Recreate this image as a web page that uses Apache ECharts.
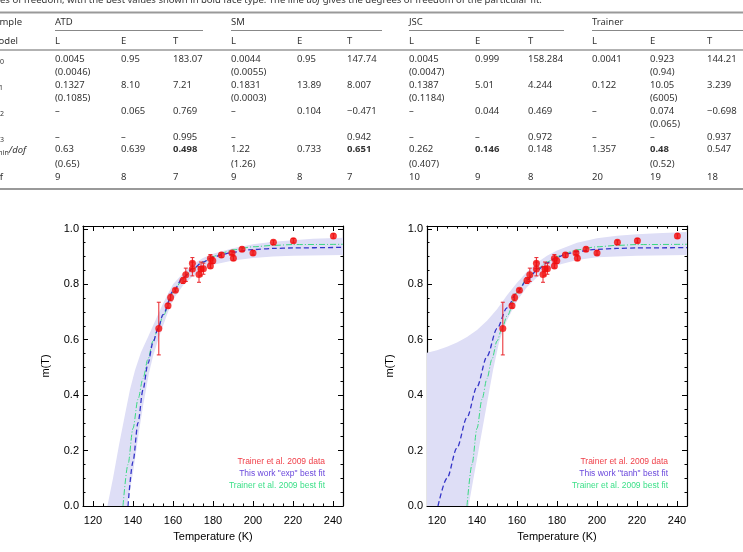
<!DOCTYPE html>
<html>
<head>
<meta charset="utf-8">
<script src="https://cdn.jsdelivr.net/npm/echarts@6/dist/echarts.min.js"></script>
<style>
html, body { margin: 0; padding: 0; background: #fff; }
#main { width: 743px; height: 552px; }
</style>
</head>
<body>
<div id="main"></div>
<script>
// measured points (Trainer et al. 2009), same in both panels
var temps = [152.9, 157.5, 158.8, 161.2, 165.0, 166.4, 169.7, 169.7, 173.0, 174.0, 175.2,
             178.7, 178.7, 179.9, 184.2, 189.5, 190.2, 194.5, 200.0, 210.2, 220.2, 240.2];
var mags  = [0.640, 0.722, 0.752, 0.778, 0.813, 0.834, 0.876, 0.855, 0.835, 0.855, 0.856,
             0.893, 0.866, 0.885, 0.905, 0.913, 0.894, 0.926, 0.913, 0.951, 0.957, 0.974];
var errs  = [0.095, 0.008, 0.012, 0.006, 0.010, 0.024, 0.020, 0.025, 0.028, 0.025, 0.020,
             0.014, 0.008, 0.010, 0.008, 0.006, 0.008, 0.008, 0.008, 0.008, 0.008, 0.008];

// Trainer et al. 2009 best fit (green, both panels)
var greenT = [135, 137.5, 140, 142.5, 145, 147.5, 150, 152.5, 155, 160, 165, 170, 175, 180, 185, 190, 200, 210, 220, 245];
var greenM = [0, 0.15, 0.28, 0.385, 0.46, 0.53, 0.595, 0.64, 0.685, 0.77, 0.82, 0.855, 0.88, 0.9, 0.914, 0.924, 0.935, 0.94, 0.943, 0.944];

// "exp" fit (left) and "tanh" fit (right)
var expT  = [137.5, 140, 142.5, 145, 147.5, 150, 152.5, 155, 160, 165, 170, 175, 180, 185, 190, 200, 210, 220, 245];
var expM  = [0, 0.16, 0.3, 0.42, 0.515, 0.59, 0.64, 0.69, 0.775, 0.823, 0.857, 0.88, 0.897, 0.908, 0.916, 0.925, 0.929, 0.931, 0.933];
var tanhT = [120.5, 125, 130, 135, 140, 145, 150, 155, 160, 165, 170, 175, 180, 185, 190, 200, 210, 220, 245];
var tanhM = [0, 0.1, 0.21, 0.32, 0.43, 0.54, 0.64, 0.715, 0.77, 0.815, 0.85, 0.877, 0.897, 0.91, 0.918, 0.926, 0.929, 0.931, 0.932];

// confidence bands, upper and lower edges
var expUpT  = [127.2, 130, 133, 136, 138.5, 141, 144, 147.5, 150, 155, 160, 165, 170, 175, 180, 190, 200, 210, 220, 230, 245];
var expUpM  = [0, 0.1, 0.22, 0.33, 0.42, 0.49, 0.555, 0.61, 0.65, 0.73, 0.8, 0.84, 0.872, 0.895, 0.91, 0.93, 0.944, 0.953, 0.959, 0.964, 0.968];
var expLoT  = [137, 140, 143, 145, 148, 150, 153, 157, 160, 165, 170, 175, 180, 190, 200, 210, 220, 245];
var expLoM  = [0, 0.12, 0.27, 0.36, 0.48, 0.54, 0.61, 0.69, 0.745, 0.795, 0.83, 0.855, 0.87, 0.886, 0.895, 0.9, 0.903, 0.905];
var tanhUpT = [115, 120, 125, 130, 135, 140, 145, 150, 155, 160, 165, 170, 175, 180, 190, 200, 210, 220, 230, 245];
var tanhUpM = [0.553, 0.562, 0.574, 0.59, 0.61, 0.635, 0.668, 0.71, 0.76, 0.805, 0.845, 0.877, 0.903, 0.922, 0.95, 0.966, 0.975, 0.98, 0.984, 0.988];
var tanhLoT = [135.8, 138, 140, 142, 144, 146, 148, 151, 153, 155, 160, 165, 170, 175, 180, 190, 200, 220, 245];
var tanhLoM = [0, 0.09, 0.17, 0.25, 0.33, 0.41, 0.49, 0.59, 0.635, 0.67, 0.74, 0.79, 0.825, 0.85, 0.868, 0.887, 0.897, 0.903, 0.905];

var xTicks = [120, 140, 160, 180, 200, 220, 240];
var yTicks = [0, 0.2, 0.4, 0.6, 0.8, 1.0];

// table
var groups = ['ATD', 'SM', 'JSC', 'Trainer'];
var models = ['L', 'E', 'T'];
var rowP0  = ['0.0045', '0.95', '183.07', '0.0044', '0.95', '147.74', '0.0045', '0.999', '158.284', '0.0041', '0.923', '144.21'];
var rowP0b = ['(0.0046)', '', '', '(0.0055)', '', '', '(0.0047)', '', '', '', '(0.94)', ''];
var rowP1  = ['0.1327', '8.10', '7.21', '0.1831', '13.89', '8.007', '0.1387', '5.01', '4.244', '0.122', '10.05', '3.239'];
var rowP1b = ['(0.1085)', '', '', '(0.0003)', '', '', '(0.1184)', '', '', '', '(6005)', ''];
var rowP2  = ['–', '0.065', '0.769', '–', '0.104', '−0.471', '–', '0.044', '0.469', '–', '0.074', '−0.698'];
var rowP2b = ['', '', '', '', '', '', '', '', '', '', '(0.065)', ''];
var rowP3  = ['–', '–', '0.995', '–', '', '0.942', '–', '–', '0.972', '–', '–', '0.937'];
var rowChi = ['0.63', '0.639', '0.498', '1.22', '0.733', '0.651', '0.262', '0.146', '0.148', '1.357', '0.48', '0.547'];
var rowChib = ['(0.65)', '', '', '(1.26)', '', '', '(0.407)', '', '', '', '(0.52)', ''];
var rowDof = ['9', '8', '7', '9', '8', '7', '10', '9', '8', '20', '19', '18'];
var boldChi = [2, 5, 7, 10];

var chartDom = document.getElementById('main');
var myChart = echarts.init(chartDom);

var axisFont = '"Liberation Sans", Arial, sans-serif';
var tableFont = '"Noto Sans", sans-serif';
var ink = '#333';

function zip(a, b) {
  return a.map(function (v, i) { return [v, b[i]]; });
}

function majorX(g, pos, labels) {
  return {
    type: 'value', gridIndex: g, position: pos, min: 115, max: 245,
    axisLine: { onZero: false, lineStyle: { color: '#000', width: 1.2 } },
    axisTick: { inside: true, length: 5, customValues: xTicks, lineStyle: { color: '#000', width: 1 } },
    axisLabel: { show: labels, customValues: xTicks, margin: 9, color: '#000', fontSize: 11, fontFamily: axisFont },
    splitLine: { show: false },
    name: labels ? 'Temperature (K)' : '',
    nameLocation: 'middle', nameGap: 25,
    nameTextStyle: { color: '#000', fontSize: 11, fontFamily: axisFont }
  };
}
function minorX(g, pos) {
  return {
    type: 'value', gridIndex: g, position: pos, min: 115, max: 245, interval: 5,
    axisLine: { show: false, onZero: false },
    axisTick: { inside: true, length: 2.5, lineStyle: { color: '#000', width: 1 } },
    axisLabel: { show: false }, splitLine: { show: false }
  };
}
function majorY(g, pos, labels) {
  return {
    type: 'value', gridIndex: g, position: pos, min: 0, max: 1.01,
    axisLine: { onZero: false, lineStyle: { color: '#000', width: 1.2 } },
    axisTick: { inside: true, length: 5, customValues: yTicks, lineStyle: { color: '#000', width: 1 } },
    axisLabel: {
      show: labels, customValues: yTicks, margin: 4, color: '#000', fontSize: 11, fontFamily: axisFont,
      formatter: function (v) { return v.toFixed(1); }
    },
    splitLine: { show: false },
    name: labels ? 'm(T)' : '',
    nameLocation: 'middle', nameGap: 32,
    nameTextStyle: { color: '#000', fontSize: 11, fontFamily: axisFont }
  };
}
function minorY(g, pos) {
  return {
    type: 'value', gridIndex: g, position: pos, min: 0, max: 1.01, interval: 0.05,
    axisLine: { show: false, onZero: false },
    axisTick: { inside: true, length: 2.5, lineStyle: { color: '#000', width: 1 } },
    axisLabel: { show: false }, splitLine: { show: false }
  };
}

var xAxes = [], yAxes = [];
[0, 1].forEach(function (g) {
  xAxes.push(majorX(g, 'bottom', true), minorX(g, 'bottom'), majorX(g, 'top', false), minorX(g, 'top'));
  yAxes.push(majorY(g, 'left', true), minorY(g, 'left'), majorY(g, 'right', false), minorY(g, 'right'));
});

function bandSeries(g, poly) {
  return {
    type: 'custom', xAxisIndex: 4 * g, yAxisIndex: 4 * g, silent: true, z: 1,
    data: [[180, 0.5]],
    renderItem: function (params, api) {
      var pts = poly.map(function (p) { return api.coord(p); });
      return { type: 'polygon', shape: { points: pts }, style: { fill: '#dedef6' } };
    }
  };
}

function pointSeries(g) {
  var errData = temps.map(function (t, i) { return [t, mags[i], errs[i]]; });
  return [
    {
      type: 'custom', xAxisIndex: 4 * g, yAxisIndex: 4 * g, silent: true, z: 5,
      data: errData,
      encode: { x: 0, y: 1 },
      renderItem: function (params, api) {
        var t = api.value(0), m = api.value(1), e = api.value(2);
        var hi = api.coord([t, m + e]);
        var lo = api.coord([t, m - e]);
        var st = { stroke: '#e8242a', lineWidth: 1 };
        return {
          type: 'group',
          children: [
            { type: 'line', shape: { x1: hi[0], y1: hi[1], x2: lo[0], y2: lo[1] }, style: st },
            { type: 'line', shape: { x1: hi[0] - 2, y1: hi[1], x2: hi[0] + 2, y2: hi[1] }, style: st },
            { type: 'line', shape: { x1: lo[0] - 2, y1: lo[1], x2: lo[0] + 2, y2: lo[1] }, style: st }
          ]
        };
      }
    },
    {
      type: 'scatter', xAxisIndex: 4 * g, yAxisIndex: 4 * g, z: 6,
      symbolSize: 7, itemStyle: { color: '#f20d0d' },
      data: zip(temps, mags)
    }
  ];
}

function lineSeries(g, data, color, dash, width, z) {
  return {
    type: 'line', xAxisIndex: 4 * g, yAxisIndex: 4 * g, z: z,
    showSymbol: false, smooth: 0.3, smoothMonotone: 'x', silent: true,
    lineStyle: { color: color, width: width, type: dash },
    data: data
  };
}

var expPoly = zip(expUpT, expUpM).concat(zip(expLoT, expLoM).reverse());
var tanhPoly = [[115, 0]].concat(zip(tanhUpT, tanhUpM), zip(tanhLoT, tanhLoM).reverse());

var series = [
  bandSeries(0, expPoly),
  lineSeries(0, zip(greenT, greenM), '#3ad882', [6, 2, 1, 2], 1, 3),
  lineSeries(0, zip(expT, expM), '#3434c8', [5, 3], 1.3, 4)
].concat(pointSeries(0), [
  bandSeries(1, tanhPoly),
  lineSeries(1, zip(greenT, greenM), '#3ad882', [6, 2, 1, 2], 1, 3),
  lineSeries(1, zip(tanhT, tanhM), '#3434c8', [5, 3], 1.3, 4)
], pointSeries(1));

// table and in-plot legend as plain graphics
var graphics = [];
function txt(x, y, s, opts) {
  opts = opts || {};
  graphics.push({
    type: 'text', x: x, y: y, silent: true,
    style: {
      text: s, fill: opts.fill || ink, align: opts.align || 'left', verticalAlign: 'middle',
      font: (opts.weight || 'normal') + ' ' + (opts.size || 9.5) + 'px ' + (opts.family || tableFont),
      rich: opts.rich
    }
  });
}
function hline(x1, x2, y, w, c) {
  graphics.push({ type: 'line', silent: true, shape: { x1: x1, y1: y, x2: x2, y2: y }, style: { stroke: c || '#999', lineWidth: w } });
}

var colX = [55, 121, 173, 231, 297, 347, 409, 475, 528, 592, 650, 707];
var groupX = [55, 231, 409, 592];

txt(0, 0, '{n|es of freedom, with the best values shown in bold face type. The line }{i|dof}{n| gives the degrees of freedom of the particular fit.}', {
  rich: { n: { fontSize: 9.5, fontFamily: tableFont, fill: ink }, i: { fontSize: 9.5, fontFamily: tableFont, fontStyle: 'italic', fill: ink } }
});
hline(0, 743, 12.5, 2, '#999');
txt(22, 22, 'Sample', { align: 'right' });
groups.forEach(function (g, i) { txt(groupX[i], 22, g); });
hline(55, 203, 30.5, 1, '#888');
hline(231, 382, 30.5, 1, '#888');
hline(409, 564, 30.5, 1, '#888');
hline(592, 743, 30.5, 1, '#888');
txt(18, 41, 'Model', { align: 'right' });
colX.forEach(function (x, i) { txt(x, 41, models[i % 3]); });
hline(0, 743, 50, 1.5, '#999');

var subRich = {
  n: { fontSize: 9.5, fontFamily: tableFont, fontStyle: 'italic', fill: ink },
  s: { fontSize: 7, fontFamily: tableFont, fill: ink, padding: [5, 0, 0, 0] }
};
txt(4, 59, '{n|p}{s|0}', { align: 'right', rich: subRich });
txt(3, 85, '{n|p}{s|1}', { align: 'right', rich: subRich });
txt(4, 111, '{n|p}{s|2}', { align: 'right', rich: subRich });
txt(4, 137, '{n|p}{s|3}', { align: 'right', rich: subRich });
txt(26, 150, '{n|χ}{s|min}{n|/dof}', { align: 'right', rich: subRich });
txt(3, 177, 'dof', { align: 'right', rich: null, family: tableFont });

function row(vals, y) {
  vals.forEach(function (v, i) { if (v) txt(colX[i], y, v); });
}
row(rowP0, 59);
row(rowP0b, 72);
row(rowP1, 85);
row(rowP1b, 98);
row(rowP2, 111);
row(rowP2b, 124);
row(rowP3, 137);
rowChi.forEach(function (v, i) {
  txt(colX[i], 149, v, { weight: boldChi.indexOf(i) >= 0 ? 'bold' : 'normal' });
});
row(rowChib, 164);
row(rowDof, 177);
hline(0, 743, 189, 2, '#999');

// legends inside the panels
var legendLines = [
  ['Trainer et al. 2009 data', '#f0404a'],
  ['', '#6a48dc'],
  ['Trainer et al. 2009 best fit', '#3ee08a']
];
[[325, 'This work "exp" best fit'], [668, 'This work "tanh" best fit']].forEach(function (p) {
  legendLines.forEach(function (l, k) {
    txt(p[0], 462 + 12 * k, l[0] || p[1], { align: 'right', fill: l[1], size: 8.5, family: axisFont });
  });
});

var option = {
  backgroundColor: '#fff',
  animation: false,
  grid: [
    { left: 83, top: 226, width: 260, height: 280 },
    { left: 427, top: 226, width: 260, height: 280 }
  ],
  xAxis: xAxes,
  yAxis: yAxes,
  series: series,
  graphic: graphics
};
option && myChart.setOption(option);
</script>
</body>
</html>
